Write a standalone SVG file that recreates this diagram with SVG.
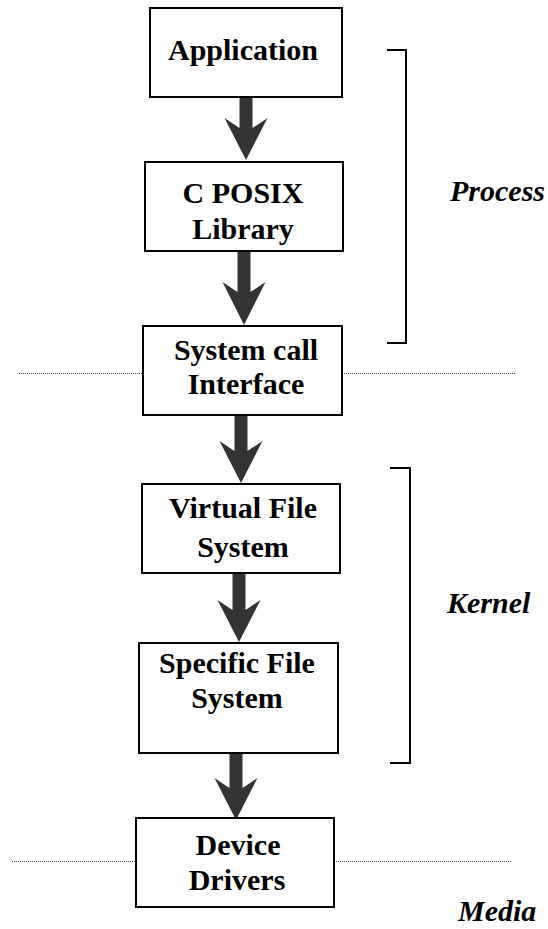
<svg xmlns="http://www.w3.org/2000/svg" width="548" height="929" viewBox="0 0 548 929">
<style>
.box{fill:#fff;stroke:#000;stroke-width:2}
.t{font-family:"Liberation Serif","Times New Roman",serif;font-weight:bold;font-size:30px;text-anchor:middle;fill:#000}
.lab{font-family:"Liberation Serif","Times New Roman",serif;font-weight:bold;font-style:italic;font-size:30px;fill:#000}
.arr{fill:#333}
.dot{stroke:#444;stroke-width:1;stroke-dasharray:1 1;fill:none}
.br{stroke:#000;stroke-width:2;fill:none}
</style>
<rect width="548" height="929" fill="#fff"/>
<g id="separators">
<line class="dot" x1="19" y1="373.5" x2="143" y2="373.5"/>
<line class="dot" x1="342" y1="373.5" x2="516" y2="373.5"/>
<line class="dot" x1="12" y1="861.5" x2="136" y2="861.5"/>
<line class="dot" x1="334" y1="861.5" x2="512" y2="861.5"/>
</g>
<g id="brackets">
<path class="br" d="M387,50 H406 V343 H387"/>
<path class="br" d="M390,468 H410 V763 H390"/>
<text class="lab" x="450" y="201">Process</text>
<text class="lab" x="447" y="613">Kernel</text>
<text class="lab" x="458" y="921">Media</text>
</g>
<g id="connectors">
<polygon class="arr" points="239.5,97 252.5,97 252.5,128 267.5,118 246,160 224.5,118 239.5,128"/>
<polygon class="arr" points="237.5,251 250.5,251 250.5,292 265.5,282 244,325 222.5,282 237.5,292"/>
<polygon class="arr" points="234.5,415 247.5,415 247.5,451 262.5,441 241,483 219.5,441 234.5,451"/>
<polygon class="arr" points="232.5,573 245.5,573 245.5,610 260.5,600 239,642 217.5,600 232.5,610"/>
<polygon class="arr" points="229.5,753 242.5,753 242.5,788 257.5,778 236,820 214.5,778 229.5,788"/>
</g>
<g id="application">
<rect class="box" x="150" y="8" width="192" height="89"/>
<text class="t" x="243" y="60">Application</text>
</g>
<g id="cposix">
<rect class="box" x="145" y="162" width="198" height="89"/>
<text class="t" x="243" y="203">C POSIX</text>
<text class="t" x="243" y="239">Library</text>
</g>
<g id="syscall">
<rect class="box" x="143" y="326" width="199" height="89"/>
<text class="t" x="246" y="360">System call</text>
<text class="t" x="246" y="394">Interface</text>
</g>
<g id="vfs">
<rect class="box" x="142" y="484" width="198" height="89"/>
<text class="t" x="243" y="518">Virtual File</text>
<text class="t" x="243" y="557">System</text>
</g>
<g id="sfs">
<rect class="box" x="139" y="643" width="199" height="110"/>
<text class="t" x="237" y="673">Specific File</text>
<text class="t" x="237" y="708">System</text>
</g>
<g id="drivers">
<rect class="box" x="136" y="818" width="198" height="89"/>
<text class="t" x="238" y="855">Device</text>
<text class="t" x="237" y="890">Drivers</text>
</g>
</svg>
